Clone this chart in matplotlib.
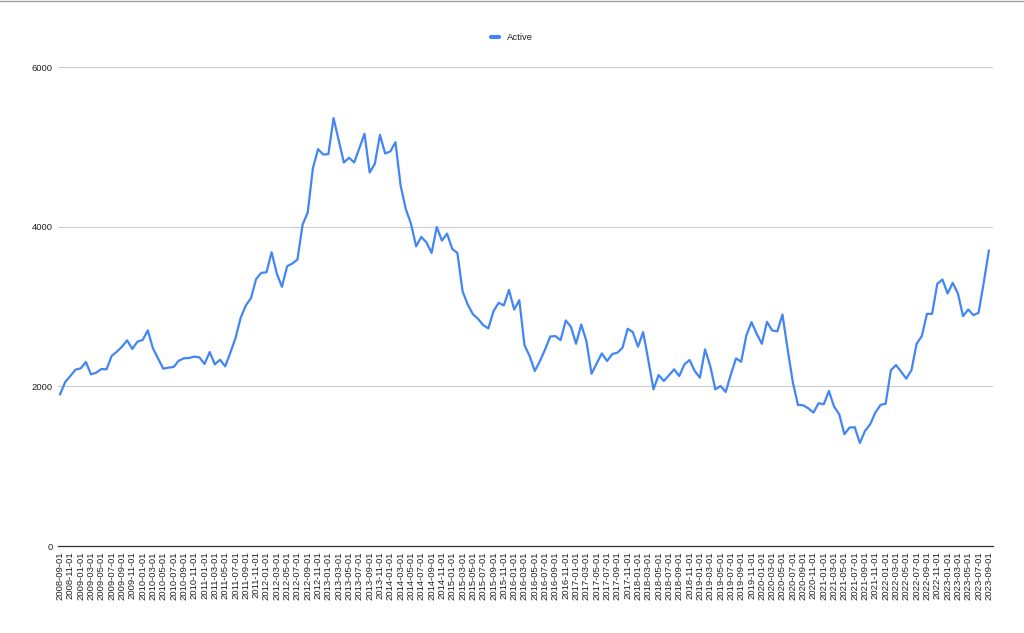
import matplotlib
matplotlib.use("Agg")
import matplotlib.pyplot as plt
from matplotlib.lines import Line2D
import pandas as pd

# ---- data ----
months = pd.date_range("2008-09-01", "2023-09-01", freq="MS").strftime("%Y-%m-%d").tolist()
active = [
    1900, 2054, 2130, 2209, 2225, 2305, 2150, 2171, 2217, 2213,
    2380, 2434, 2497, 2576, 2468, 2560, 2580, 2701, 2476, 2347,
    2221, 2234, 2242, 2321, 2351, 2355, 2372, 2363, 2280, 2430,
    2275, 2333, 2250, 2421, 2604, 2858, 3013, 3104, 3346, 3421,
    3429, 3679, 3413, 3246, 3504, 3538, 3588, 4025, 4179, 4734,
    4971, 4904, 4909, 5359, 5079, 4804, 4863, 4804, 4984, 5163,
    4679, 4788, 5150, 4917, 4942, 5058, 4513, 4221, 4038, 3754,
    3871, 3804, 3671, 3996, 3825, 3913, 3721, 3671, 3192, 3025,
    2904, 2846, 2767, 2725, 2942, 3046, 3013, 3208, 2962, 3079,
    2517, 2379, 2192, 2317, 2463, 2625, 2629, 2579, 2825, 2746,
    2533, 2775, 2567, 2158, 2288, 2413, 2317, 2404, 2421, 2483,
    2721, 2679, 2496, 2679, 2329, 1962, 2142, 2067, 2138, 2213,
    2129, 2275, 2329, 2192, 2108, 2463, 2254, 1962, 2004, 1929,
    2150, 2350, 2308, 2638, 2804, 2658, 2533, 2808, 2700, 2688,
    2900, 2463, 2054, 1767, 1763, 1725, 1671, 1788, 1775, 1942,
    1746, 1650, 1400, 1483, 1488, 1290, 1442, 1525, 1671, 1767,
    1783, 2200, 2267, 2183, 2096, 2204, 2533, 2629, 2908, 2908,
    3283, 3338, 3163, 3296, 3163, 2879, 2963, 2892, 2921, 3296,
    3700,
]
yticks = [0, 2000, 4000, 6000]
series_name = "Active"

# ---- figure ----
W, H = 1024, 633
fig = plt.figure(figsize=(W / 100, H / 100), dpi=100)
plt.rcParams["font.family"] = ["Liberation Sans", "DejaVu Sans"]

left, right, top, bottom = 58, 993, 67, 546
ax = fig.add_axes([left / W, 1 - bottom / H, (right - left) / W, (bottom - top) / H])

color = "#4285F4"
x = list(range(len(active)))
ax.plot(x, active, color=color, lw=1.6, solid_joinstyle="round", zorder=3)

ax.set_xlim(-0.4, len(active) - 1 + 0.8)
ax.set_ylim(0, 6000)

ax.set_yticks(yticks)
ax.set_yticklabels([str(v) for v in yticks], fontsize=6.8, color="#222222")
ax.yaxis.grid(True, color="#cccccc", lw=0.8)
ax.set_axisbelow(True)

ax.set_xticks(x[::2])
ax.set_xticklabels(months[::2], rotation=90, fontsize=6.8, color="#222222")
ax.tick_params(axis="both", length=0)
ax.tick_params(axis="x", pad=4)
ax.tick_params(axis="y", pad=4)

for s in ["top", "right", "left"]:
    ax.spines[s].set_visible(False)
ax.spines["bottom"].set_color("#333333")
ax.spines["bottom"].set_linewidth(0.9)

# legend (top centre)
ly = 1 - 37 / H
fig.add_artist(Line2D([491 / W, 499 / W], [ly, ly], color=color, lw=3,
                      solid_capstyle="round", transform=fig.transFigure))
fig.text(507 / W, ly, series_name, fontsize=6.8, color="#222222",
         ha="left", va="center")

# top border line of the screenshot
fig.add_artist(Line2D([0, 1], [1 - 0.5 / H, 1 - 0.5 / H], color="#a0a0a0",
                      lw=1, transform=fig.transFigure))

fig.savefig("out.png", dpi=100)
